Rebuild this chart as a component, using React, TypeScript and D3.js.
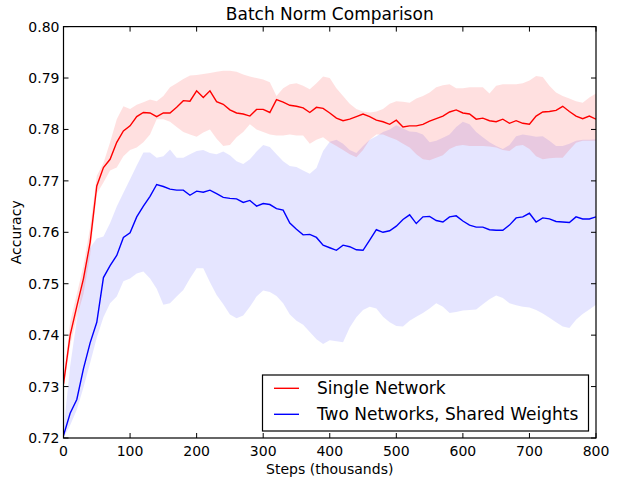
import React from "react";
import * as d3 from "d3";

// sample positions (thousands of steps)
const STEPS = d3.range(0, 801, 10);

const singleMean = [
  0.7305, 0.74, 0.7456, 0.751, 0.758, 0.769, 0.7726, 0.7742, 0.7775, 0.7797,
  0.7807, 0.7825, 0.7833, 0.7832, 0.7825, 0.7832, 0.7832, 0.7843, 0.7856, 0.7855,
  0.7875, 0.7862, 0.7875, 0.7854, 0.7849, 0.7838, 0.7832, 0.783, 0.7826, 0.7839,
  0.7839, 0.7833, 0.7858, 0.7853, 0.7847, 0.7845, 0.7842, 0.7833, 0.7843, 0.7841,
  0.7832, 0.7822, 0.7817, 0.782, 0.7825, 0.783, 0.7825, 0.7818, 0.7815, 0.781,
  0.7818, 0.7805, 0.7807, 0.7807, 0.781, 0.7816, 0.7821, 0.7826, 0.7834, 0.7838,
  0.7832, 0.783, 0.782, 0.7822, 0.7817, 0.7815, 0.782, 0.7812, 0.7817, 0.7812,
  0.781, 0.7826, 0.7834, 0.7835, 0.7837, 0.7845, 0.7835, 0.7826, 0.7821, 0.7826,
  0.782,
];
const singleUpper = [
  0.7315, 0.7425, 0.748, 0.7535, 0.761, 0.771, 0.7735, 0.7775, 0.782, 0.7845,
  0.784, 0.7848, 0.7853, 0.7858, 0.7855, 0.7865, 0.7882, 0.789, 0.7898, 0.7905,
  0.7906, 0.7908, 0.791, 0.7912, 0.7914, 0.7914, 0.7912, 0.7907, 0.7903, 0.79,
  0.7897, 0.7892, 0.7865, 0.788, 0.7888, 0.789, 0.7885, 0.7878, 0.789, 0.7903,
  0.79, 0.788, 0.7865, 0.785, 0.784, 0.7835, 0.7833, 0.7835, 0.784, 0.785,
  0.7855, 0.7854, 0.7852, 0.786, 0.7865, 0.7872, 0.7882, 0.7886, 0.7888, 0.788,
  0.788, 0.7882, 0.7882, 0.7882, 0.787, 0.7885, 0.7888, 0.7888, 0.7888, 0.789,
  0.7895, 0.7904, 0.7902, 0.7885, 0.7872, 0.7865, 0.786, 0.7855, 0.7852, 0.7862,
  0.787,
];
const singleLower = [
  0.7295, 0.738, 0.7435, 0.748, 0.7555, 0.7675, 0.7697, 0.772, 0.7726, 0.7748,
  0.776, 0.7765, 0.7775, 0.779, 0.782, 0.782, 0.7815, 0.7805, 0.7795, 0.779,
  0.7786, 0.7794, 0.78, 0.7782, 0.7768, 0.777, 0.7785, 0.7795, 0.781, 0.78,
  0.7795, 0.779, 0.7788, 0.7788, 0.779, 0.7788, 0.7788, 0.7772, 0.778, 0.7785,
  0.7775, 0.7768, 0.776, 0.7752, 0.7746, 0.776, 0.778, 0.779, 0.779, 0.7785,
  0.778, 0.7772, 0.7765, 0.7752, 0.7742, 0.774, 0.7745, 0.775, 0.7762, 0.7768,
  0.777, 0.7768, 0.7768, 0.7768, 0.7767, 0.7765, 0.776, 0.7758, 0.7768, 0.777,
  0.7762, 0.7748, 0.7742, 0.7744, 0.7745, 0.7745, 0.776, 0.7774, 0.7778, 0.7778,
  0.7778,
];

const sharedMean = [
  0.7205, 0.7248, 0.7275, 0.7335, 0.7385, 0.7425, 0.7512, 0.7535, 0.7555, 0.759,
  0.7599, 0.763, 0.7651, 0.767, 0.7693, 0.7689, 0.7684, 0.7682, 0.7682, 0.7672,
  0.768, 0.7678, 0.7682, 0.7675, 0.7668, 0.7666, 0.7665, 0.7658, 0.7662, 0.7651,
  0.7656, 0.7654, 0.7646, 0.7643, 0.7618, 0.7606, 0.7595, 0.7596, 0.759, 0.7575,
  0.757, 0.7565, 0.7575, 0.7572, 0.7566, 0.7565, 0.7585, 0.7605, 0.76, 0.7603,
  0.7612, 0.7625, 0.7634, 0.7617, 0.763, 0.7631, 0.7623, 0.762, 0.763, 0.7632,
  0.7622, 0.7614, 0.761, 0.761, 0.7605, 0.7604, 0.7604, 0.7614, 0.7628, 0.763,
  0.7637, 0.762, 0.7628, 0.7626, 0.7621, 0.762, 0.7619, 0.763, 0.7626, 0.7626,
  0.763,
];
const sharedUpper = [
  0.7215, 0.734, 0.743, 0.751, 0.757, 0.7588, 0.7592, 0.7618, 0.765, 0.7677,
  0.7703, 0.773, 0.7755, 0.7755, 0.7745, 0.7748, 0.7761, 0.7745, 0.7745, 0.7752,
  0.7758, 0.776, 0.7754, 0.7752, 0.7757, 0.775, 0.7738, 0.7733, 0.7742, 0.7757,
  0.777, 0.7766, 0.7752, 0.7738, 0.7729, 0.7727, 0.772, 0.7714, 0.7725, 0.7758,
  0.7776, 0.778, 0.7772, 0.776, 0.7754, 0.7768, 0.778, 0.7787, 0.7795, 0.78,
  0.7808, 0.7802, 0.7796, 0.7795, 0.779, 0.7775, 0.7778, 0.7784, 0.779, 0.7805,
  0.7815, 0.781, 0.7795, 0.7785, 0.7775, 0.7768, 0.7762, 0.777, 0.7787, 0.779,
  0.7788, 0.7786, 0.7787, 0.7778, 0.7768, 0.7768, 0.7772, 0.7778, 0.778, 0.778,
  0.7781,
];
const sharedLower = [
  0.72, 0.7225, 0.7255, 0.7298, 0.7346, 0.7395, 0.7435, 0.7462, 0.7475, 0.7505,
  0.751, 0.752, 0.7524, 0.751, 0.749, 0.7459, 0.7462, 0.7475, 0.7488, 0.751,
  0.753, 0.753, 0.7503, 0.7478, 0.746, 0.744, 0.7433, 0.7438, 0.7455, 0.7475,
  0.7487, 0.7484, 0.7476, 0.7462, 0.744, 0.7428, 0.742, 0.7406, 0.7392, 0.7383,
  0.739, 0.7388, 0.7386, 0.7415, 0.7435, 0.7449, 0.7455, 0.7452, 0.7436, 0.7425,
  0.7418, 0.7417, 0.7428, 0.7436, 0.7443, 0.7452, 0.7462, 0.7455, 0.7443, 0.7445,
  0.7448, 0.7449, 0.745, 0.746, 0.747, 0.7477, 0.7472, 0.7462, 0.7458, 0.7455,
  0.7454, 0.7449, 0.7442, 0.7434, 0.7425, 0.7417, 0.7414, 0.743, 0.7441, 0.745,
  0.7459,
];

const xTicks = [0, 100, 200, 300, 400, 500, 600, 700, 800];
const yTicks = [0.72, 0.73, 0.74, 0.75, 0.76, 0.77, 0.78, 0.79, 0.8];

const seriesNames = ["Single Network", "Two Networks, Shared Weights"];
const seriesColors = ["#ff0000", "#0000ff"];

const W = 625;
const H = 484;
const left = 63.5;
const right = 596;
const top = 26.6;
const bottom = 438;
const font = "DejaVu Sans, Verdana, sans-serif";

export default function App() {
  const x = d3.scaleLinear().domain([0, 800]).range([left, right]);
  const y = d3.scaleLinear().domain([0.72, 0.8]).range([bottom, top]);

  const line = (vals: number[]) =>
    d3
      .line<number>()
      .x((_, i) => x(STEPS[i]))
      .y((d) => y(d))(vals) as string;

  const band = (lo: number[], hi: number[]) =>
    d3
      .area<number>()
      .x((_, i) => x(STEPS[i]))
      .y0((_, i) => y(lo[i]))
      .y1((_, i) => y(hi[i]))(STEPS) as string;

  const tl = 5;

  return (
    <svg
      width={W}
      height={H}
      style={{ position: "absolute", left: 0, top: 0, background: "#fff" }}
      fontFamily={font}
    >
      <defs>
        <clipPath id="plot">
          <rect x={left} y={top} width={right - left} height={bottom - top} />
        </clipPath>
      </defs>
      <g clipPath="url(#plot)">
        <path d={band(sharedLower, sharedUpper)} fill="#0000ff" fillOpacity={0.1} />
        <path d={band(singleLower, singleUpper)} fill="#ff0000" fillOpacity={0.12} />
        <path d={line(singleMean)} fill="none" stroke={seriesColors[0]} strokeWidth={1.4} />
        <path d={line(sharedMean)} fill="none" stroke={seriesColors[1]} strokeWidth={1.4} />
      </g>

      {/* ticks, inward on all four sides */}
      {xTicks.map((t) => (
        <g key={"x" + t}>
          <line x1={x(t)} x2={x(t)} y1={bottom} y2={bottom - tl} stroke="#000" />
          <line x1={x(t)} x2={x(t)} y1={top} y2={top + tl} stroke="#000" />
          <text x={x(t)} y={456} fontSize={14} textAnchor="middle" fill="#000">
            {t}
          </text>
        </g>
      ))}
      {yTicks.map((t) => (
        <g key={"y" + t}>
          <line x1={left} x2={left + tl} y1={y(t)} y2={y(t)} stroke="#000" />
          <line x1={right} x2={right - tl} y1={y(t)} y2={y(t)} stroke="#000" />
          <text
            x={left - 4}
            y={y(t)}
            dy="0.36em"
            fontSize={14}
            textAnchor="end"
            fill="#000"
          >
            {t.toFixed(2)}
          </text>
        </g>
      ))}

      <rect
        x={left}
        y={top}
        width={right - left}
        height={bottom - top}
        fill="none"
        stroke="#000"
        strokeWidth={1.2}
      />

      <text x={(left + right) / 2} y={20} fontSize={17} textAnchor="middle" fill="#000">
        Batch Norm Comparison
      </text>
      <text x={(left + right) / 2} y={474} fontSize={14} textAnchor="middle" fill="#000">
        Steps (thousands)
      </text>
      <text
        transform={`translate(21, ${(top + bottom) / 2}) rotate(-90)`}
        fontSize={14}
        textAnchor="middle"
        fill="#000"
      >
        Accuracy
      </text>

      {/* legend */}
      <g>
        <rect x={262.5} y={375} width={326} height={56} fill="#fff" stroke="#000" strokeWidth={1.2} />
        {seriesNames.map((name, i) => (
          <g key={name} transform={`translate(0, ${388.3 + i * 26})`}>
            <line x1={274} x2={299} y1={0} y2={0} stroke={seriesColors[i]} strokeWidth={1.4} />
            <text x={317} y={0} dy="0.36em" fontSize={17} fill="#000">
              {name}
            </text>
          </g>
        ))}
      </g>
    </svg>
  );
}
